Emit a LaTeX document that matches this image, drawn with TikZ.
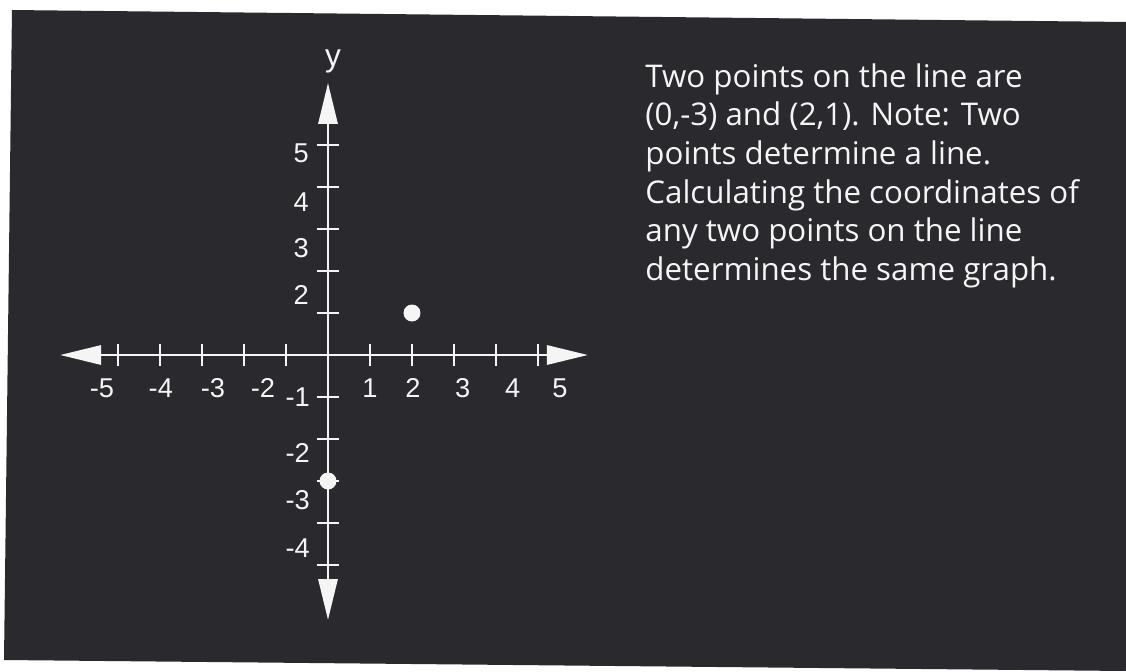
\documentclass[tikz,border=0pt]{standalone}
\usepackage{fontspec}
\setmainfont{Open Sans}
\newfontfamily\axisfont{Liberation Sans}
\usetikzlibrary{arrows.meta}
\definecolor{board}{RGB}{42,41,45}
\definecolor{chalk}{RGB}{245,245,245}
\tikzset{
  axisline/.style={chalk, line width=1.7pt,
    {Triangle[length=0.82cm,width=0.38cm]}-{Triangle[length=0.82cm,width=0.38cm]}},
  tickmark/.style={chalk, line width=1.3pt},
  numlabel/.style={chalk, inner sep=0pt, font=\axisfont\fontsize{15.5}{15.5}\selectfont},
  dotpt/.style={circle, fill=chalk, minimum size=0.34cm, inner sep=0pt},
  notetext/.style={chalk, align=left, inner sep=0pt, font=\fontsize{17.8}{22}\selectfont}
}
\begin{document}
\begin{tikzpicture}[x=0.84cm, y=0.84cm]
  \useasboundingbox (-7.8095,-7.5238) rectangle (19.0,8.4524);
  % scanned board
  \fill[white] (-7.8095,-7.5238) rectangle (19.0,8.4524);
  \fill[board] (-7.524,8.214) -- (19.0,7.929) -- (19.0,-7.5238) -- (-7.714,-7.262) -- cycle;
  % Axes
  \coordinate (xl) at (-6.38,0);
  \coordinate (xr) at (6.19,0);
  \coordinate (yb) at (0,-6.31);
  \coordinate (yt) at (0,6.48);
  \draw[axisline] (xl) -- (xr);
  \draw[axisline] (yb) -- (yt);
  \foreach \i in {-5,...,-1,1,2,...,5} {
    \draw[tickmark] (\i,-0.27) -- (\i,0.27);
    \draw[tickmark] (-0.27,\i) -- (0.27,\i);
  }
  % tick labels
  \foreach \lx/\t in {-5.38/-5, -3.98/-4, -2.74/-3, -1.55/-2, 1.0/1, 2.02/2, 3.21/3, 4.4/4, 5.52/5}
    \node[numlabel] (xl\t) at (\lx,-0.79) {\t};
  \foreach \ly/\t in {4.81/5, 3.64/4, 2.55/3, 1.43/2}
    \node[numlabel] (yl\t) at (-0.64,\ly) {\t};
  \foreach \ly/\t in {-1.0/-1, -2.33/-2, -3.45/-3, -4.6/-4}
    \node[numlabel] (yl\t) at (-0.72,\ly) {\t};
  \node[numlabel, font=\axisfont\fontsize{18}{18}\selectfont] (ylab) at (0.12,6.98) {y};
  % the two points
  \node[dotpt] (pa) at (2,1) {};
  \node[dotpt] (pb) at (0,-3) {};
  % note
  \node[notetext, anchor=north west] (note) at (7.55,6.95) {Two points on the line are\\
    (0,-3) and (2,1). Note: Two\\
    points determine a line.\\
    Calculating the coordinates of\\
    any two points on the line\\
    determines the same graph.};
\end{tikzpicture}
\end{document}
